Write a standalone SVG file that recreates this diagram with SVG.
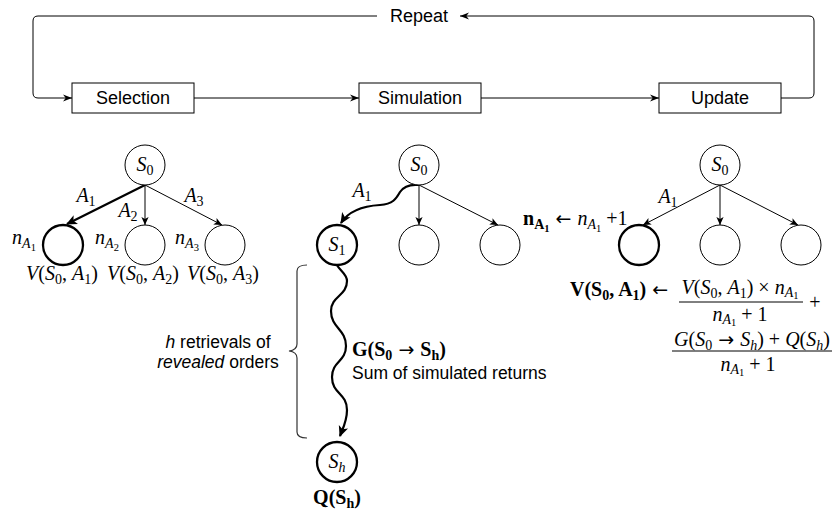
<svg xmlns="http://www.w3.org/2000/svg" width="832" height="510" viewBox="0 0 832 510">
<style>
.sans{font-family:"Liberation Sans",Arial,sans-serif;font-size:17.5px;fill:#000}
.top{font-size:18px}
.m{font-family:"Liberation Serif","DejaVu Serif",serif;font-size:20px;fill:#000}
.i{font-style:italic}
.b{font-weight:bold}
.s{font-size:14px}
.ss{font-size:10.5px}
.ar{font-family:"DejaVu Sans",sans-serif;font-size:19px;font-weight:normal;font-style:normal}
.box{fill:#fff;stroke:#000;stroke-width:1}
.nd{fill:#fff;stroke:#000;stroke-width:1}
.ndb{fill:#fff;stroke:#000;stroke-width:2.3}
.ln{fill:none;stroke:#000;stroke-width:1}
.lnb{fill:none;stroke:#000;stroke-width:2.2}
.fl{fill:none;stroke:#000;stroke-width:1}
</style>
<defs>
<marker id="arr" viewBox="0 0 10 10" refX="10" refY="5" markerWidth="9" markerHeight="9" markerUnits="userSpaceOnUse" orient="auto"><path d="M0,1 L10,5 L0,9 L3,5 z" fill="#000"/></marker>
<marker id="tip" viewBox="0 0 10 10" refX="10" refY="5" markerWidth="8" markerHeight="8" markerUnits="userSpaceOnUse" orient="auto"><path d="M0,0.5 L10,5 L0,9.5 L2.5,5 z" fill="#000"/></marker>
<marker id="tipb" viewBox="0 0 10 10" refX="9" refY="5" markerWidth="11" markerHeight="11" markerUnits="userSpaceOnUse" orient="auto"><path d="M0,0.5 L10,5 L0,9.5 L2.5,5 z" fill="#000"/></marker>
</defs>
<rect width="832" height="510" fill="#fff"/>

<g id="connectors">
  <path class="fl" d="M194,98 H359" marker-end="url(#arr)"/>
  <path class="fl" d="M481,98 H659" marker-end="url(#arr)"/>
  <path class="fl" d="M781,98 H809 Q814,98 814,93 V21 Q814,16 809,16 H460" marker-end="url(#arr)"/>
  <path class="fl" d="M377,16 H38 Q33,16 33,21 V93 Q33,98 38,98 H72" marker-end="url(#arr)"/>
  <path class="lnb" d="M145,185 L67,224" marker-end="url(#tipb)"/>
  <path class="ln" d="M145,185 V225" marker-end="url(#tip)"/>
  <path class="ln" d="M145,185 L222,225" marker-end="url(#tip)"/>
  <path class="lnb" d="M419,185 C410,184 404,186 400,192 C396,199 393,204 380,205 C362,206 348,212 341,223" marker-end="url(#tipb)"/>
  <path class="ln" d="M419,185 V225" marker-end="url(#tip)"/>
  <path class="ln" d="M419,185 L498,225" marker-end="url(#tip)"/>
  <path class="lnb" d="M337,265 C340,271 347,274 347,281 C347,296 331,296 331,311 C331,328 346,329 346,346 C346,362 332,361 332,377 C332,394 347,393 347,410 C347,421 343,428 340,436" marker-end="url(#tipb)"/>
  <path class="ln" d="M720,185 L643,225" marker-end="url(#tip)"/>
  <path class="ln" d="M720,185 V225" marker-end="url(#tip)"/>
  <path class="ln" d="M720,185 L798,225" marker-end="url(#tip)"/>
</g>

<g id="selection"><rect class="box" x="72" y="83" width="122" height="30"/><text class="sans top" x="133" y="104" text-anchor="middle">Selection</text></g>
<g id="simulation"><rect class="box" x="359" y="83" width="122" height="30"/><text class="sans top" x="420" y="104" text-anchor="middle">Simulation</text></g>
<g id="update"><rect class="box" x="659" y="83" width="122" height="30"/><text class="sans top" x="720" y="104" text-anchor="middle">Update</text></g>
<g id="repeat"><text class="sans top" x="419" y="22" text-anchor="middle">Repeat</text></g>

<!-- Left tree -->
<g id="sel-s0"><circle class="nd" cx="145" cy="165" r="20"/><text class="m" x="145" y="171" text-anchor="middle"><tspan class="i">S</tspan><tspan class="s" dy="4">0</tspan></text></g>
<g id="sel-c1"><circle class="ndb" cx="63" cy="245" r="20"/></g>
<g id="sel-c2"><circle class="nd" cx="145" cy="245" r="20"/></g>
<g id="sel-c3"><circle class="nd" cx="225" cy="245" r="20"/></g>
<g id="sel-labels">
  <text class="m" x="86" y="202" text-anchor="middle"><tspan class="i">A</tspan><tspan class="s" dy="4">1</tspan></text>
  <text class="m" x="128" y="217" text-anchor="middle"><tspan class="i">A</tspan><tspan class="s" dy="4">2</tspan></text>
  <text class="m" x="194" y="202" text-anchor="middle"><tspan class="i">A</tspan><tspan class="s" dy="4">3</tspan></text>
  <text class="m" x="24" y="244" text-anchor="middle"><tspan class="i">n</tspan><tspan class="s i" dy="4">A</tspan><tspan class="ss" dy="3">1</tspan></text>
  <text class="m" x="107" y="244" text-anchor="middle"><tspan class="i">n</tspan><tspan class="s i" dy="4">A</tspan><tspan class="ss" dy="3">2</tspan></text>
  <text class="m" x="187" y="244" text-anchor="middle"><tspan class="i">n</tspan><tspan class="s i" dy="4">A</tspan><tspan class="ss" dy="3">3</tspan></text>
  <text class="m" x="62" y="280" text-anchor="middle"><tspan class="i">V</tspan>(<tspan class="i">S</tspan><tspan class="s" dy="4">0</tspan><tspan dy="-4">, </tspan><tspan class="i">A</tspan><tspan class="s" dy="4">1</tspan><tspan dy="-4">)</tspan></text>
  <text class="m" x="143" y="280" text-anchor="middle"><tspan class="i">V</tspan>(<tspan class="i">S</tspan><tspan class="s" dy="4">0</tspan><tspan dy="-4">, </tspan><tspan class="i">A</tspan><tspan class="s" dy="4">2</tspan><tspan dy="-4">)</tspan></text>
  <text class="m" x="223" y="280" text-anchor="middle"><tspan class="i">V</tspan>(<tspan class="i">S</tspan><tspan class="s" dy="4">0</tspan><tspan dy="-4">, </tspan><tspan class="i">A</tspan><tspan class="s" dy="4">3</tspan><tspan dy="-4">)</tspan></text>
</g>

<!-- Middle tree -->
<g id="sim-s0"><circle class="nd" cx="419" cy="165" r="20"/><text class="m" x="419" y="171" text-anchor="middle"><tspan class="i">S</tspan><tspan class="s" dy="4">0</tspan></text></g>
<g id="sim-s1"><circle class="ndb" cx="337" cy="245" r="20"/><text class="m" x="337" y="251" text-anchor="middle"><tspan class="i">S</tspan><tspan class="s" dy="4">1</tspan></text></g>
<g id="sim-c2"><circle class="nd" cx="419" cy="245" r="20"/></g>
<g id="sim-c3"><circle class="nd" cx="500" cy="245" r="20"/></g>
<g id="sim-sh"><circle class="ndb" cx="337" cy="462" r="20"/><text class="m" x="337" y="468" text-anchor="middle"><tspan class="i">S</tspan><tspan class="s i" dy="4">h</tspan></text></g>
<g id="sim-labels">
  <text class="m" x="362" y="197" text-anchor="middle"><tspan class="i">A</tspan><tspan class="s" dy="4">1</tspan></text>
  <text class="m b" x="352" y="356"><tspan>G(S</tspan><tspan class="s" dy="4">0</tspan><tspan class="ar" dy="-4"> → </tspan><tspan>S</tspan><tspan class="s" dy="4">h</tspan><tspan dy="-4">)</tspan></text>
  <text class="sans" x="352" y="379">Sum of simulated returns</text>
  <text class="m b" x="337" y="504" text-anchor="middle"><tspan>Q(S</tspan><tspan class="s" dy="4">h</tspan><tspan dy="-4">)</tspan></text>
</g>
<g id="brace">
  <path d="M307,265 Q297,265 297,271 V344 Q297,350 289,351 Q297,352 297,358 V432 Q297,438 307,438" fill="none" stroke="#333" stroke-width="1.2"/>
  <text class="sans" x="218" y="348" text-anchor="middle"><tspan class="i">h</tspan> retrievals of</text>
  <text class="sans" x="218" y="368" text-anchor="middle"><tspan class="i">revealed</tspan> orders</text>
</g>

<!-- Right tree -->
<g id="upd-s0"><circle class="nd" cx="720" cy="165" r="20"/><text class="m" x="720" y="171" text-anchor="middle"><tspan class="i">S</tspan><tspan class="s" dy="4">0</tspan></text></g>
<g id="upd-c1"><circle class="ndb" cx="639" cy="245" r="20"/></g>
<g id="upd-c2"><circle class="nd" cx="720" cy="245" r="20"/></g>
<g id="upd-c3"><circle class="nd" cx="801" cy="245" r="20"/></g>
<g id="upd-labels">
  <text class="m" x="523" y="225"><tspan class="b">n</tspan><tspan class="s b" dy="4">A</tspan><tspan class="ss b" dy="3">1</tspan><tspan class="ar" dy="-7"> ← </tspan><tspan class="i">n</tspan><tspan class="s i" dy="4">A</tspan><tspan class="ss" dy="3">1</tspan><tspan dy="-7"> +1</tspan></text>
  <text class="m" x="668" y="203" text-anchor="middle"><tspan class="i">A</tspan><tspan class="s" dy="4">1</tspan></text>
</g>
<g id="formula">
  <text class="m" x="570" y="296"><tspan class="b">V(S</tspan><tspan class="s b" dy="4">0</tspan><tspan class="b" dy="-4">, A</tspan><tspan class="s b" dy="4">1</tspan><tspan class="b" dy="-4">)</tspan><tspan class="ar"> ←</tspan></text>
  <text class="m" x="740" y="294" text-anchor="middle"><tspan class="i">V</tspan>(<tspan class="i">S</tspan><tspan class="s" dy="4">0</tspan><tspan dy="-4">, </tspan><tspan class="i">A</tspan><tspan class="s" dy="4">1</tspan><tspan dy="-4">) × </tspan><tspan class="i">n</tspan><tspan class="s i" dy="3">A</tspan><tspan class="ss" dy="2">1</tspan></text>
  <line x1="679" y1="302" x2="803" y2="302" stroke="#000" stroke-width="1"/>
  <text class="m" x="815" y="309" text-anchor="middle">+</text>
  <text class="m" x="740" y="321" text-anchor="middle"><tspan class="i">n</tspan><tspan class="s i" dy="3">A</tspan><tspan class="ss" dy="2">1</tspan><tspan dy="-5"> + 1</tspan></text>
  <text class="m" x="752" y="346" text-anchor="middle"><tspan class="i">G</tspan>(<tspan class="i">S</tspan><tspan class="s" dy="4">0</tspan><tspan class="ar" dy="-4"> → </tspan><tspan class="i">S</tspan><tspan class="s i" dy="4">h</tspan><tspan dy="-4">) + </tspan><tspan class="i">Q</tspan>(<tspan class="i">S</tspan><tspan class="s i" dy="4">h</tspan><tspan dy="-4">)</tspan></text>
  <line x1="672" y1="351" x2="832" y2="351" stroke="#000" stroke-width="1"/>
  <text class="m" x="748" y="371" text-anchor="middle"><tspan class="i">n</tspan><tspan class="s i" dy="3">A</tspan><tspan class="ss" dy="2">1</tspan><tspan dy="-5"> + 1</tspan></text>
</g>
</svg>
